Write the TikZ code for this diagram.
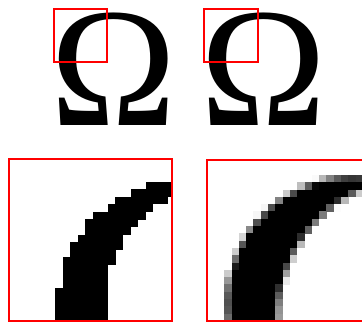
\documentclass[tikz,border=0pt]{standalone}
\usepackage{fontspec}
\setmainfont{Liberation Serif}
\begin{document}
\begin{tikzpicture}[x=1pt,y=-1pt,
  glyph/.style={inner sep=0pt,anchor=base,font=\fontsize{170}{170}\selectfont},
  zoombox/.style={draw=red,line width=1.2pt},
  bigbox/.style={draw=red,line width=2pt}]
  \useasboundingbox (0,0) rectangle (362,322);

  % The glyph twice: jagged (left) and smoothed (right).
  \node[glyph] (omegaL) at (113.5,125) {Ω};
  \node[glyph] (omegaR) at (263.5,125) {Ω};

  % Regions that are blown up below.
  \draw[zoombox] (54,9) rectangle (107,62);
  \draw[zoombox] (204,9) rectangle (258,62);

  % Left blow-up: a pixel is either in or out.
  \begin{scope}
    \clip (9,159) rectangle (172,321);
    \foreach \i in {-7,...,15}{
      \foreach \j in {-4,...,18}{
        \pgfmathsetmacro{\X}{55+7.56*(\i+0.5)}
        \pgfmathsetmacro{\Y}{181.7+7.56*(\j+0.5)}
        \pgfmathsetmacro{\dist}{min(130-veclen(\X-186.5,\Y-309),veclen(\X-212,\Y-298)-105.5)}
        \ifdim\dist pt>0pt
          \fill (\X-3.8,\Y-3.8) rectangle +(7.6,7.6);
        \fi
      }
    }
  \end{scope}

  % Right blow-up: grey level from the covered part of the pixel.
  \begin{scope}
    \clip (207,160) rectangle (372,321);
    \foreach \i in {-3,...,19}{
      \foreach \j in {-3,...,20}{
        \pgfmathsetmacro{\X}{224.3+7.3*(\i+0.5)}
        \pgfmathsetmacro{\Y}{175+7.3*(\j+0.5)}
        \pgfmathsetmacro{\cov}{100*max(0,min(1,0.5+min(127-veclen(\X-353.6,\Y-303.5),veclen(\X-417.8,\Y-317.5)-139.5)/7.3))}
        \ifdim\cov pt>1pt
          \fill[black!\cov] (\X-3.75,\Y-3.75) rectangle +(7.5,7.5);
        \fi
      }
    }
  \end{scope}

  \draw[bigbox] (9,159) rectangle (172,321);
  \draw[bigbox] (207,160) rectangle (372,321);
\end{tikzpicture}
\end{document}
